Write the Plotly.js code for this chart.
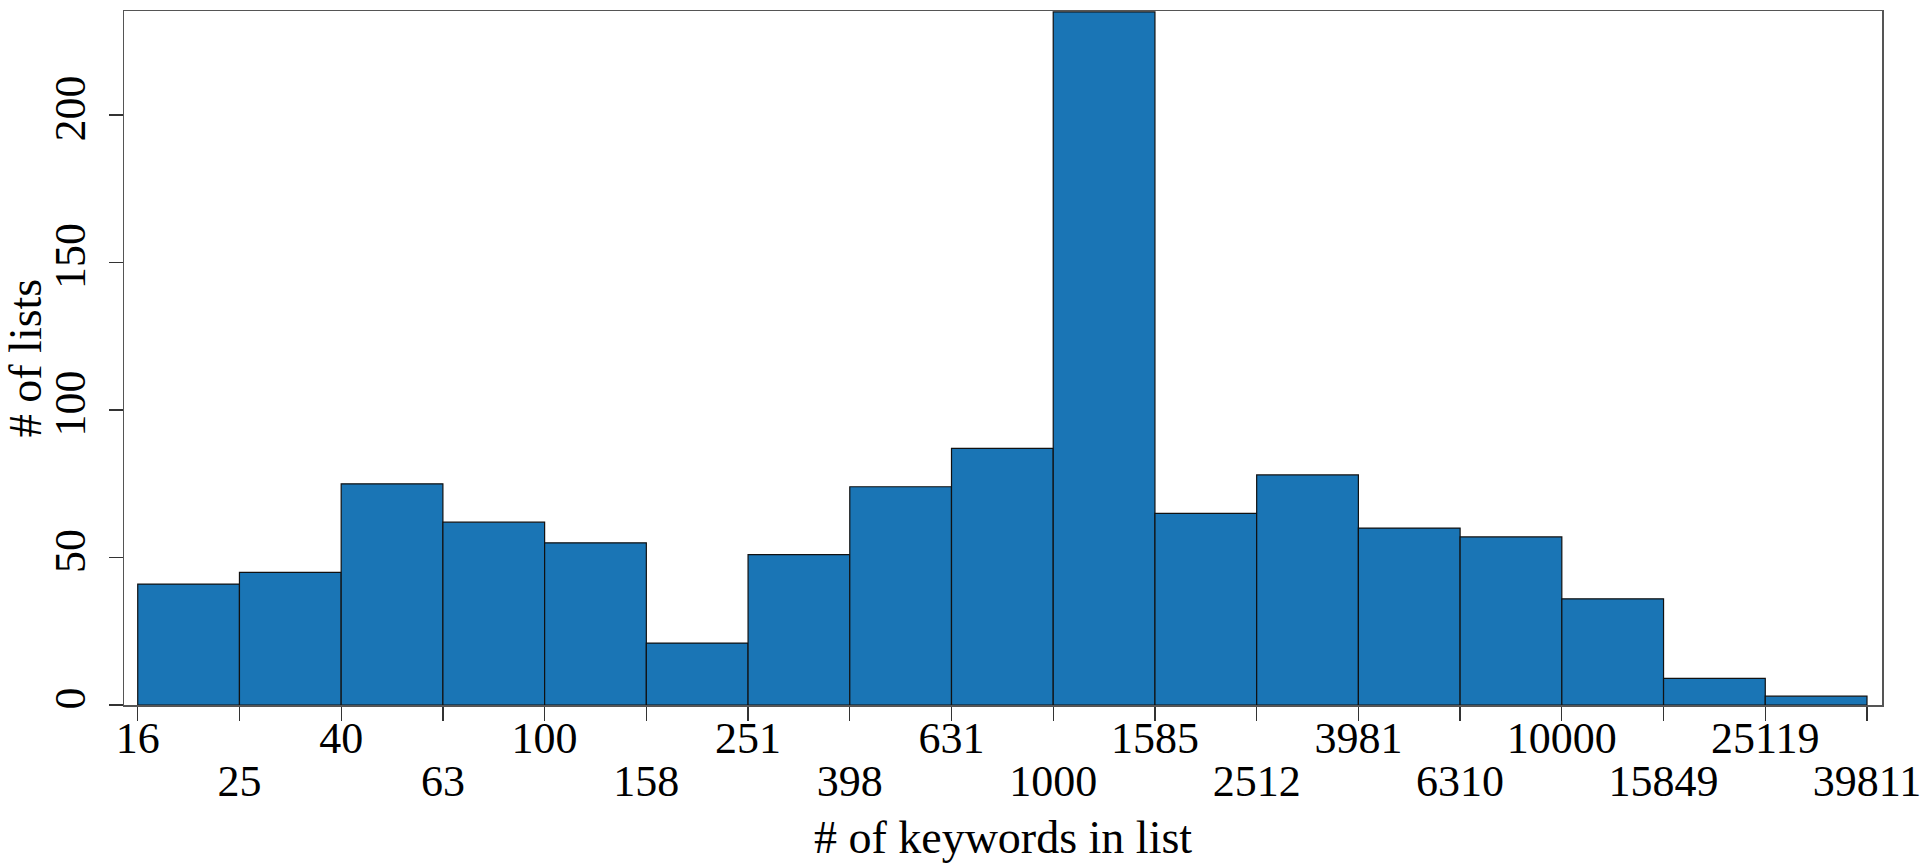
<!DOCTYPE html>
<html>
<head>
<meta charset="utf-8">
<script src="https://cdn.plot.ly/plotly-3.0.1.min.js"></script>
<style>
  html, body { margin: 0; padding: 0; background: #fff; }
  #chart { width: 1920px; height: 863px; }
</style>
</head>
<body>
<div id="chart"></div>
<script>
// Bin edges (log10 of # of keywords) and their printed labels
const logBreaks = [1.2, 1.4, 1.6, 1.8, 2.0, 2.2, 2.4, 2.6, 2.8, 3.0, 3.2, 3.4, 3.6, 3.8, 4.0, 4.2, 4.4, 4.6];
const breakLabels = ["16", "25", "40", "63", "100", "158", "251", "398", "631", "1000",
                     "1585", "2512", "3981", "6310", "10000", "15849", "25119", "39811"];
// Counts per bin (# of lists)
const counts = [41, 45, 75, 62, 55, 21, 51, 74, 87, 235, 65, 78, 60, 57, 36, 9, 3];
const yTicks = [0, 50, 100, 150, 200];

const centers = counts.map((_, i) => (logBreaks[i] + logBreaks[i + 1]) / 2);
const widths = counts.map((_, i) => logBreaks[i + 1] - logBreaks[i]);

const row2Vals = logBreaks.filter((_, i) => i % 2 === 1);
const row2Text = breakLabels.filter((_, i) => i % 2 === 1);

const FONT = "Liberation Serif, Times New Roman, serif";
const xRange = [1.173, 4.6295];

const trace = {
  type: "bar",
  x: centers,
  y: counts,
  width: widths,
  marker: { color: "#1a75b5", line: { color: "#111111", width: 1.2 } },
  hoverinfo: "y"
};

const layout = {
  width: 1920,
  height: 863,
  margin: { l: 124, r: 38, t: 11, b: 158 },
  paper_bgcolor: "#ffffff",
  plot_bgcolor: "#ffffff",
  showlegend: false,
  bargap: 0,
  font: { family: FONT, color: "#000000", size: 44 },
  xaxis: {
    range: xRange,
    tickmode: "array",
    tickvals: logBreaks,
    ticktext: breakLabels.map((t, i) => (i % 2 === 0 ? t : "")),
    ticks: "outside",
    ticklen: 14,
    tickwidth: 1.3,
    tickcolor: "#333333",
    showgrid: false,
    zeroline: false,
    showline: true,
    mirror: true,
    linecolor: "#555555",
    linewidth: 1.5,
    tickfont: { family: FONT, size: 44, color: "#000000" },
    ticklabelstandoff: -20,
    ticklabeloverflow: "allow",
    title: { text: "# of keywords in list", font: { family: FONT, size: 46, color: "#000000" }, standoff: 64 },
    automargin: false
  },
  xaxis2: {
    range: xRange,
    overlaying: "x",
    anchor: "y",
    side: "bottom",
    tickmode: "array",
    tickvals: row2Vals,
    ticktext: row2Text,
    ticks: "",
    showgrid: false,
    zeroline: false,
    showline: false,
    tickfont: { family: FONT, size: 44, color: "#000000" },
    ticklabelstandoff: 46,
    ticklabeloverflow: "allow",
    automargin: false
  },
  yaxis: {
    range: [0, 235.3],
    tickmode: "array",
    tickvals: yTicks,
    ticktext: yTicks.map(String),
    tickangle: -90,
    ticks: "outside",
    ticklen: 14,
    tickwidth: 1.3,
    tickcolor: "#333333",
    showgrid: false,
    zeroline: false,
    showline: true,
    mirror: true,
    linecolor: "#555555",
    linewidth: 1.5,
    tickfont: { family: FONT, size: 44, color: "#000000" },
    ticklabelstandoff: 6,
    title: { text: "# of lists", font: { family: FONT, size: 46, color: "#000000" }, standoff: 0 },
    automargin: false
  }
};

// invisible trace to activate xaxis2
const ghost = { type: "scatter", x: [xRange[0]], y: [0], xaxis: "x2", yaxis: "y", mode: "markers",
  marker: { opacity: 0 }, hoverinfo: "skip", showlegend: false };

Plotly.newPlot("chart", [trace, ghost], layout, { displayModeBar: false, staticPlot: true });
</script>
</body>
</html>
